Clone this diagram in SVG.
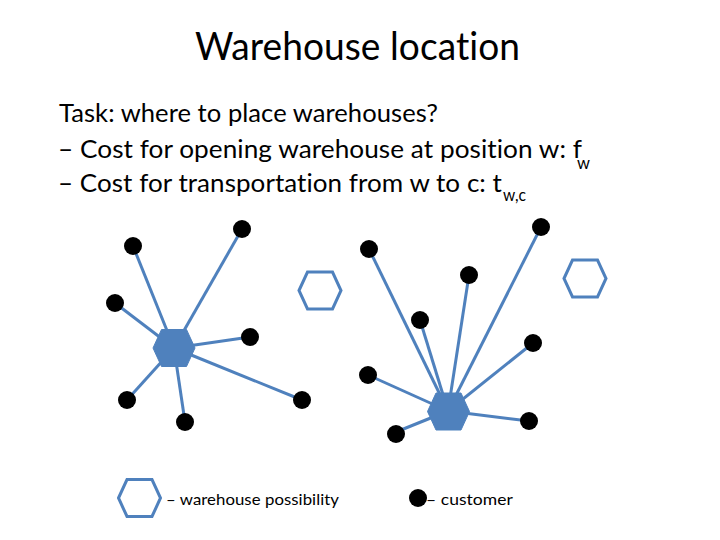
<svg xmlns="http://www.w3.org/2000/svg" xmlns:xlink="http://www.w3.org/1999/xlink" width="720" height="540" viewBox="0 0 720 540">
  <style>
    .t { font-family: Lato, "Liberation Sans", sans-serif; fill: #000; font-variant-ligatures: none; font-feature-settings: "liga" 0, "clig" 0, "dlig" 0; letter-spacing: 0.05px; }
    .edge { stroke: #4f81bd; stroke-width: 3; fill: none; }
    .cust { fill: #000; }
    .hub { fill: #4f81bd; stroke: #4f81bd; stroke-width: 1; }
    .poss { fill: #fff; stroke: #4f81bd; stroke-width: 3; }
  </style>
  <defs>
    <polygon id="hex" points="-21,0 -12.5,-18.5 12.5,-18.5 21,0 12.5,18.5 -12.5,18.5"/>
  </defs>
  <rect width="720" height="540" fill="#fff"/>

  <g id="title">
    <text class="t" x="195" y="60" font-size="39" textLength="325" lengthAdjust="spacingAndGlyphs">Warehouse location</text>
  </g>
  <g id="body">
    <text class="t" x="59" y="122" font-size="25" textLength="379" lengthAdjust="spacingAndGlyphs">Task: where to place warehouses?</text>
    <text class="t" x="58" y="158" font-size="25" textLength="524" lengthAdjust="spacingAndGlyphs">– Cost for opening warehouse at position w: f</text>
    <text class="t" x="577" y="169" font-size="17" textLength="13" lengthAdjust="spacingAndGlyphs">w</text>
    <text class="t" x="58" y="192" font-size="25" textLength="444" lengthAdjust="spacingAndGlyphs">– Cost for transportation from w to c: t</text>
    <text class="t" x="503" y="201" font-size="17" textLength="23" lengthAdjust="spacingAndGlyphs">w,c</text>
  </g>

  <g id="connectors">
    <line class="edge" x1="174" y1="348" x2="133" y2="246"/>
    <line class="edge" x1="174" y1="348" x2="242" y2="229"/>
    <line class="edge" x1="174" y1="348" x2="115" y2="303"/>
    <line class="edge" x1="174" y1="348" x2="250" y2="337"/>
    <line class="edge" x1="174" y1="348" x2="127" y2="400"/>
    <line class="edge" x1="174" y1="348" x2="185" y2="422"/>
    <line class="edge" x1="174" y1="348" x2="302" y2="400"/>
    <line class="edge" x1="448" y1="411" x2="369" y2="249"/>
    <line class="edge" x1="448" y1="411" x2="541" y2="227"/>
    <line class="edge" x1="448" y1="411" x2="469" y2="275"/>
    <line class="edge" x1="448" y1="411" x2="420" y2="320"/>
    <line class="edge" x1="448" y1="411" x2="533" y2="343"/>
    <line class="edge" x1="448" y1="411" x2="368" y2="375"/>
    <line class="edge" x1="448" y1="411" x2="529" y2="421"/>
    <line class="edge" x1="448" y1="411" x2="396" y2="432"/>
  </g>

  <g id="customers">
    <circle id="c1" class="cust" cx="133" cy="246" r="9"/>
    <circle id="c2" class="cust" cx="242" cy="229" r="9"/>
    <circle id="c3" class="cust" cx="115" cy="303" r="9"/>
    <circle id="c4" class="cust" cx="250" cy="337" r="9"/>
    <circle id="c5" class="cust" cx="127" cy="400" r="9"/>
    <circle id="c6" class="cust" cx="185" cy="422" r="9"/>
    <circle id="c7" class="cust" cx="302" cy="400" r="9"/>
    <circle id="c8" class="cust" cx="369" cy="249" r="9"/>
    <circle id="c9" class="cust" cx="541" cy="227" r="9"/>
    <circle id="c10" class="cust" cx="469" cy="275" r="9"/>
    <circle id="c11" class="cust" cx="420" cy="320" r="9"/>
    <circle id="c12" class="cust" cx="533" cy="343" r="9"/>
    <circle id="c13" class="cust" cx="368" cy="375" r="9"/>
    <circle id="c14" class="cust" cx="529" cy="421" r="9"/>
    <circle id="c15" class="cust" cx="396" cy="434" r="9"/>
  </g>

  <g id="hub-left"><use xlink:href="#hex" href="#hex" class="hub" transform="translate(174,348)"/></g>
  <g id="hub-right"><use xlink:href="#hex" href="#hex" class="hub" transform="translate(448.5,411.5)"/></g>
  <g id="possible-1"><use xlink:href="#hex" href="#hex" class="poss" transform="translate(320,290.5)"/></g>
  <g id="possible-2"><use xlink:href="#hex" href="#hex" class="poss" transform="translate(585,278.5)"/></g>

  <g id="legend-warehouse">
    <use xlink:href="#hex" href="#hex" class="poss" transform="translate(139.5,498)"/>
    <text class="t" x="166" y="505" font-size="16" textLength="173" lengthAdjust="spacingAndGlyphs">– warehouse possibility</text>
  </g>
  <g id="legend-customer">
    <circle class="cust" cx="418" cy="498" r="9"/>
    <text class="t" x="426" y="505" font-size="16" textLength="87" lengthAdjust="spacingAndGlyphs">– customer</text>
  </g>
</svg>
